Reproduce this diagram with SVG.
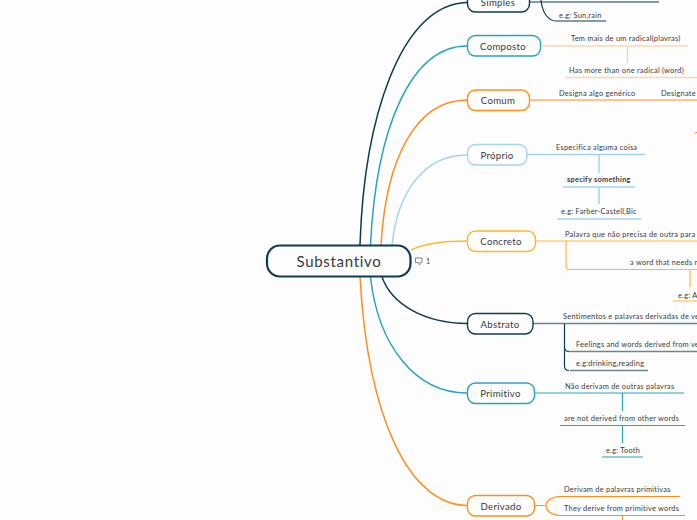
<svg xmlns="http://www.w3.org/2000/svg" width="697" height="520" viewBox="0 0 697 520">
<style>
text{font-family:"Lato","Noto Sans",sans-serif;fill:#3a3a3a}
.s{font-size:7.4px;letter-spacing:.25px}
.n{font-size:9.6px;letter-spacing:.3px;text-anchor:middle}
.f{fill:#fdfdfd;stroke-width:1.4}
.l{fill:none;stroke-width:1.5}
.t{fill:none;stroke-width:1.2}
.dk{stroke:#0e3a55}.te{stroke:#2aa3c2}.or{stroke:#ff8f1c}.lb{stroke:#a2d4ee}.am{stroke:#fdb92e}.pe{stroke:#fbd5b5}.gr{stroke:#6c8494}
</style>
<rect width="697" height="520" fill="#fdfdfd"/>
<g id="connectors">
<path class="l dk" d="M360 245C364 120 400 4 467 2.500"/>
<path class="l te" d="M370.500 245C376 130 410 46 467 46"/>
<path class="l or" d="M381 245C386 160 415 100 467 100"/>
<path class="l lb" d="M392 245C398 190 425 155 467 155"/>
<path class="l am" d="M411 250C425 243 445 241 467 241"/>
<path class="l dk" d="M382 277C392 305 425 323 467 323.500"/>
<path class="l te" d="M370.500 277C378 345 415 393 467 393"/>
<path class="l or" d="M360 277C368 420 410 505 467 505.500"/>
<path class="t dk" d="M530 2H659M541 0C542 12 548 21 556 21H606"/>
<path class="l pe" d="M540 46H688M627.500 46V63M565 77.500H697"/>
<path class="t or" d="M529 100H697M695 132.500H697"/>
<path class="l lb" d="M527 154.500H645M599 155V173M563 187H635M599 187V204M557 219H641"/>
<path class="t am" d="M535 241H697M566 241V266Q566 269.500 570 269.500H697M690 270V287M673 301H697"/>
<path class="l gr" d="M533 323.500H697M569 351.500H697M570 370.500H648"/>
<path class="t dk" d="M564.500 324V347Q564.500 351.500 569 351.500M564.500 347V366Q564.500 370.500 569 370.500"/>
<path class="t te" d="M534 393H684M622.500 393V411M560 425.500H685M622.500 425.500V443M602 457H643"/>
<path class="t or" d="M534 505.500H545M680 496.500H560C552 496.500 546 501 546 505.500C546 511 552 515.500 560 515.500H685M622.500 516V520"/>
</g>
<g id="central"><rect x="267" y="245.500" width="143.500" height="31" rx="13" fill="#fdfdfd" stroke="#0e3a55" stroke-width="2.200"/><text x="339" y="266.500" letter-spacing=".7" text-anchor="middle" style="font-size:15px">Substantivo</text></g>
<g id="comment"><path d="M415.500 258H422V262.500H420.500L419.500 265L418.500 262.500H415.500Z" fill="none" stroke="#666" stroke-width=".8"/><text x="426" y="264" style="font-size:7px">1</text></g>
<g id="simples"><rect class="f dk" x="467.500" y="-9" width="62" height="21" rx="8"/><text class="n" x="498" y="6">Simples</text><text class="s" x="559" y="17.500">e.g: Sun,rain</text></g>
<g id="composto"><rect class="f te" x="467.500" y="35.500" width="73" height="20.500" rx="8"/><text class="n" x="503" y="49.500">Composto</text><text class="s" x="571" y="41">Tem mais de um radical(plavras)</text><text class="s" x="569" y="73">Has more than one radical (word)</text></g>
<g id="comum"><rect class="f or" x="467.500" y="90" width="62" height="20.500" rx="8"/><text class="n" x="498" y="104">Comum</text><text class="s" x="559" y="96">Designa algo genérico</text><text class="s" x="661" y="96">Designate</text></g>
<g id="proprio"><rect class="f lb" x="467.500" y="144.500" width="59.500" height="20.500" rx="8"/><text class="n" x="497" y="158.500">Próprio</text><text class="s" x="556" y="150">Especifica alguma coisa</text><text class="s" x="567" y="182" style="font-weight:700">specify something</text><text class="s" x="561" y="214">e.g: Farber-Castell,Bic</text></g>
<g id="concreto"><rect class="f am" x="467.500" y="231" width="68" height="20.500" rx="8"/><text class="n" x="501" y="245">Concreto</text><text class="s" x="565" y="237">Palavra que não precisa de outra para</text><text class="s" x="630" y="265">a word that needs n</text><text class="s" x="678" y="297.500">e.g: Ai</text></g>
<g id="abstrato"><rect class="f dk" x="467.500" y="313.500" width="65.500" height="20.500" rx="8"/><text class="n" x="500" y="327.500">Abstrato</text><text class="s" x="563" y="319">Sentimentos e palavras derivadas de ve</text><text class="s" x="576" y="347">Feelings and words derived from ve</text><text class="s" x="576" y="366">e.g:drinking,reading</text></g>
<g id="primitivo"><rect class="f te" x="467.500" y="383" width="67" height="20.500" rx="8"/><text class="n" x="500.500" y="397">Primitivo</text><text class="s" x="565" y="389">Não derivam de outras palavras</text><text class="s" x="564" y="421">are not derived from other words</text><text class="s" x="606" y="453">e.g: Tooth</text></g>
<g id="derivado"><rect class="f or" x="467.500" y="495.500" width="67" height="20.500" rx="8"/><text class="n" x="501" y="509.500">Derivado</text><text class="s" x="564" y="492">Derivam de palavras primitivas</text><text class="s" x="564" y="511">They derive from primitive words</text></g>
</svg>
